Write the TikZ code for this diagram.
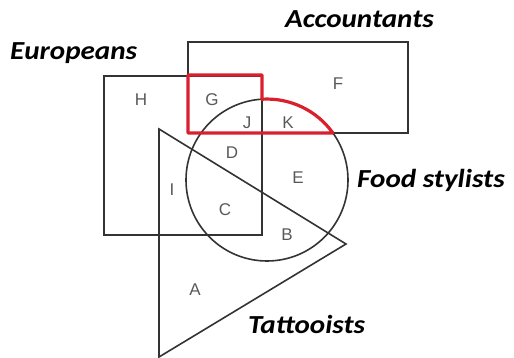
\documentclass[tikz,border=0pt]{standalone}
\usepackage{fontspec}
\setmainfont{Liberation Sans}
\newfontfamily\labfont[ItalicFont={* Bold Italic}]{Carlito}
\definecolor{hired}{RGB}{218,32,44}
\tikzset{
  setline/.style={draw=black!80, line width=1.6pt},
  redline/.style={draw=hired, line width=3.2pt, line join=round},
  setname/.style={font=\labfont\itshape\fontsize{26}{26}\selectfont, anchor=base west, inner sep=0pt, xscale=1.12},
  region/.style={font=\fontsize{17}{17}\selectfont, text=black!65, inner sep=0pt},
}
\begin{document}
\begin{tikzpicture}[x=1pt,y=-1pt]
\useasboundingbox (0,0) rectangle (514,358);
% sets
\draw[setline] (188,42) rectangle (408,133);
\draw[setline] (104,76) rectangle (262,235);
\draw[setline] (267,180) circle[radius=81];
\draw[setline, line join=miter] (159,129) -- (346,244) -- (159,357) -- cycle;
% highlighted region
\draw[redline] (188,75) -- (262,75) -- (262,99.2) arc[start angle=-93.5, end angle=-35.5, radius=81] -- (188,133) -- cycle;
% set names
\node[setname] (eu) at (10,60) {Europeans};
\node[setname] (ac) at (285,28) {Accountants};
\node[setname] (fs) at (357,188) {Food stylists};
\node[setname] (ta) at (248,333) {Tattooists};
% region letters
\node[region] (H) at (141,100) {H};
\node[region] (G) at (212,100) {G};
\node[region] (F) at (338,84) {F};
\node[region] (J) at (247,123) {J};
\node[region] (K) at (288,123) {K};
\node[region] (D) at (232,153) {D};
\node[region] (E) at (298,178) {E};
\node[region] (I) at (172,190) {I};
\node[region] (C) at (225,210) {C};
\node[region] (B) at (287,235) {B};
\node[region] (A) at (195,290) {A};
\end{tikzpicture}
\end{document}
